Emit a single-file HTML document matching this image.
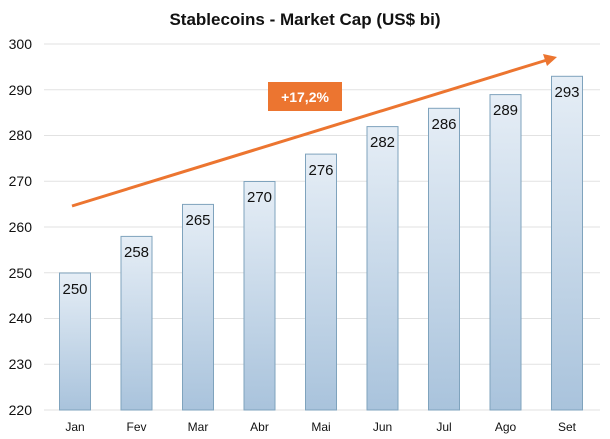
<!DOCTYPE html>
<html><head><meta charset="utf-8"><style>
html,body{margin:0;padding:0;background:#fff;}
svg{display:block;font-family:"Liberation Sans",sans-serif;}
</style></head><body>
<svg width="610" height="439" viewBox="0 0 610 439" xmlns="http://www.w3.org/2000/svg">
<defs>
<linearGradient id="g" x1="0" y1="0" x2="0" y2="1">
<stop offset="0" stop-color="#e6eef6"/><stop offset="1" stop-color="#a9c3dc"/>
</linearGradient>
</defs>
<text x="305" y="25" text-anchor="middle" font-size="17" font-weight="bold" fill="#111">Stablecoins - Market Cap (US$ bi)</text>
<g stroke="#e2e2e2" stroke-width="1">
<line x1="44" x2="600" y1="44" y2="44"/><line x1="44" x2="600" y1="89.75" y2="89.75"/>
<line x1="44" x2="600" y1="135.5" y2="135.5"/><line x1="44" x2="600" y1="181.25" y2="181.25"/>
<line x1="44" x2="600" y1="227" y2="227"/><line x1="44" x2="600" y1="272.75" y2="272.75"/>
<line x1="44" x2="600" y1="318.5" y2="318.5"/><line x1="44" x2="600" y1="364.25" y2="364.25"/>
<line x1="44" x2="600" y1="410" y2="410"/>
</g>
<g font-size="14" fill="#111" text-anchor="end">
<text x="32" y="49">300</text><text x="32" y="95">290</text><text x="32" y="140">280</text>
<text x="32" y="186">270</text><text x="32" y="232">260</text><text x="32" y="278">250</text>
<text x="32" y="323">240</text><text x="32" y="369">230</text><text x="32" y="415">220</text>
</g>
<g fill="url(#g)" stroke="#7fa3bd" stroke-width="1">
<rect x="59.5" y="273" width="31" height="137"/>
<rect x="121" y="236.4" width="31" height="173.6"/>
<rect x="182.5" y="204.4" width="31" height="205.6"/>
<rect x="244" y="181.5" width="31" height="228.5"/>
<rect x="305.5" y="154.1" width="31" height="255.9"/>
<rect x="367" y="126.6" width="31" height="283.4"/>
<rect x="428.5" y="108.3" width="31" height="301.7"/>
<rect x="490" y="94.6" width="31" height="315.4"/>
<rect x="551.5" y="76.3" width="31" height="333.7"/>
</g>
<g font-size="15" fill="#111" text-anchor="middle">
<text x="75" y="294">250</text><text x="136.5" y="257">258</text><text x="198" y="225">265</text>
<text x="259.5" y="202">270</text><text x="321" y="175">276</text><text x="382.5" y="147">282</text>
<text x="444" y="129">286</text><text x="505.5" y="115">289</text><text x="567" y="97">293</text>
</g>
<g font-size="12" fill="#111" text-anchor="middle">
<text x="75" y="431">Jan</text><text x="136.5" y="431">Fev</text><text x="198" y="431">Mar</text>
<text x="259.5" y="431">Abr</text><text x="321" y="431">Mai</text><text x="382.5" y="431">Jun</text>
<text x="444" y="431">Jul</text><text x="505.5" y="431">Ago</text><text x="567" y="431">Set</text>
</g>
<line x1="72" y1="206" x2="547" y2="60" stroke="#ec7530" stroke-width="3"/>
<polygon points="557,57 543,54 547,66" fill="#ec7530"/>
<rect x="268" y="82" width="74" height="29" fill="#ec7530"/>
<text x="305" y="102" text-anchor="middle" font-size="14" font-weight="bold" fill="#fff">+17,2%</text>
</svg>
</body></html>
